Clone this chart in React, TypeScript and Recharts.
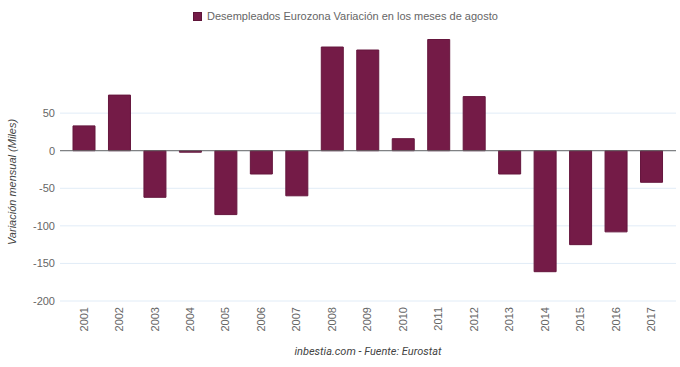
import React from 'react';
import {
  BarChart, Bar, XAxis, YAxis, CartesianGrid, ReferenceLine, Label
} from 'recharts';

const years = [
  '2001', '2002', '2003', '2004', '2005', '2006', '2007', '2008', '2009',
  '2010', '2011', '2012', '2013', '2014', '2015', '2016', '2017',
];
const variacion = [
  33, 74, -62, -2, -85, -31, -60, 138, 134, 16, 148, 72, -31, -161, -125, -108, -42,
];
const yTicks = [-200, -150, -100, -50, 0, 50];

const seriesName = 'Desempleados Eurozona Variación en los meses de agosto';
const yTitle = 'Variación mensual (Miles)';
const xTitle = 'inbestia.com - Fuente: Eurostat';

const data = years.map((year, i) => ({ year, value: variacion[i] }));

const BAR_COLOR = '#741b47';
const FONT = '"Liberation Sans", Arial, sans-serif';

const YearTick = (props: any) => {
  const { x, y, payload } = props;
  const ty = y - 2;
  return (
    <text
      x={x}
      y={ty}
      dy="0.35em"
      textAnchor="end"
      transform={`rotate(-90, ${x}, ${ty})`}
      fill="#666"
      fontSize={11}
      fontFamily={FONT}
    >
      {payload.value}
    </text>
  );
};

// legend drawn outside the chart so it doesn't eat plot height
const LegendBox = () => (
  <div
    style={{
      position: 'absolute',
      left: 193,
      top: 10,
      display: 'flex',
      alignItems: 'center',
      fontFamily: FONT,
      fontSize: 11,
      lineHeight: '13px',
      color: '#666',
      whiteSpace: 'nowrap',
    }}
  >
    <span
      style={{
        display: 'inline-block',
        width: 7,
        height: 7,
        background: BAR_COLOR,
        border: '1px solid #5e1439',
        marginRight: 5,
      }}
    />
    {seriesName}
  </div>
);

export default function App() {
  return (
    <div style={{ position: 'absolute', left: 0, top: 0, width: 680, height: 367, background: '#fff' }}>
      <BarChart
        width={680}
        height={367}
        data={data}
        margin={{ top: 38, right: 4, bottom: 0, left: 0 }}
        barCategoryGap={0}
      >
        <CartesianGrid horizontal vertical={false} stroke="#e1ecf7" horizontalValues={yTicks} />
        <XAxis
          dataKey="year"
          axisLine={false}
          tickLine={false}
          tick={<YearTick />}
          interval={0}
          padding={{ left: 6, right: 7 }}
          height={66}
        >
          <Label
            content={() => (
              <text
                x={368}
                y={355}
                textAnchor="middle"
                fill="#444"
                fontSize={11}
                fontStyle="italic"
                fontFamily="Roboto, sans-serif"
              >
                {xTitle}
              </text>
            )}
          />
        </XAxis>
        <YAxis
          domain={[-200, 150]}
          ticks={yTicks}
          allowDataOverflow
          axisLine={false}
          tickLine={false}
          tickSize={3}
          tickMargin={2}
          width={60}
          tick={{ fill: '#666', fontSize: 11, fontFamily: FONT }}
        >
          <Label
            content={() => (
              <text
                x={12}
                y={182}
                textAnchor="middle"
                transform="rotate(-90, 12, 182)"
                dy="0.35em"
                fill="#444"
                fontSize={11}
                fontStyle="italic"
                fontFamily={FONT}
              >
                {yTitle}
              </text>
            )}
          />
        </YAxis>
        <ReferenceLine y={0} stroke="#666" strokeWidth={1} />
        <Bar
          dataKey="value"
          name={seriesName}
          fill={BAR_COLOR}
          stroke="#65163d"
          strokeWidth={1}
          barSize={22}
          isAnimationActive={false}
        />
      </BarChart>
      <LegendBox />
    </div>
  );
}
